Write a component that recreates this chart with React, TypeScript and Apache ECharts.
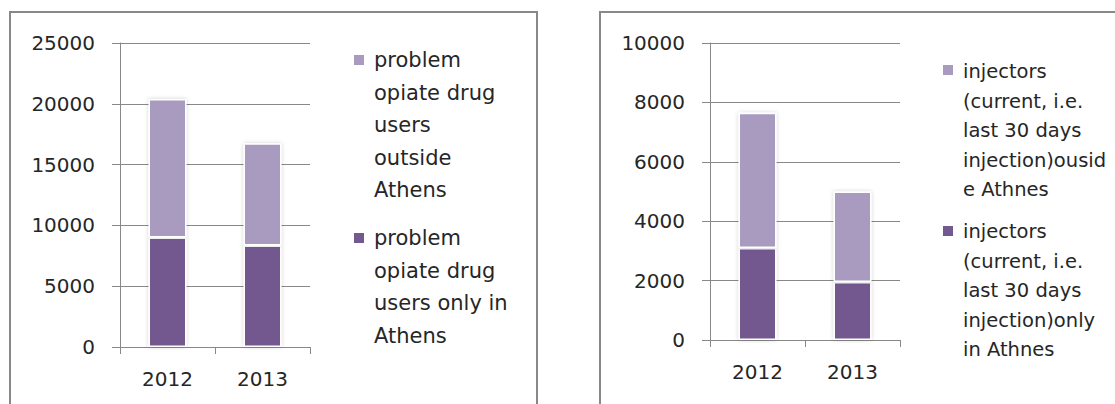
import React, { useEffect, useRef } from "react";
import * as echarts from "echarts";

const categories = ["2012", "2013"];
const opiateOnlyAthens = [9000, 8350];
const opiateOutsideAthens = [11400, 8400];
const injectorsOnlyAthens = [3100, 1950];
const injectorsOutsideAthens = [4550, 3050];

const opiateOutsideLabel = "problem\nopiate drug\nusers\noutside\nAthens";
const opiateAthensLabel = "problem\nopiate drug\nusers only in\nAthens";
const injOutsideLabel = "injectors\n(current, i.e.\nlast 30 days\ninjection)ousid\ne Athnes";
const injAthensLabel = "injectors\n(current, i.e.\nlast 30 days\ninjection)only\nin Athnes";

const LIGHT = "#A99BBF";
const DARK = "#72598F";
const GREY = "#888888";
const TEXT = "#262626";
const FONT = "DejaVu Sans";

export default function App() {
  const ref = useRef<HTMLDivElement>(null);
  useEffect(() => {
    if (!ref.current) return;
    const chart = echarts.init(ref.current, undefined, { renderer: "svg" });
    const xAxisBase = (gridIndex: number) => ({
      type: "category" as const,
      gridIndex,
      data: categories,
      axisLine: { show: true, lineStyle: { color: GREY, width: 1 } },
      axisTick: { show: true, length: 7, lineStyle: { color: GREY } },
      axisLabel: { margin: 22, fontSize: 20, color: TEXT, fontFamily: FONT },
      splitLine: { show: false },
    });
    const yAxisBase = (gridIndex: number, max: number, interval: number) => ({
      type: "value" as const,
      gridIndex,
      min: 0,
      max,
      interval,
      axisLine: { show: true, lineStyle: { color: GREY, width: 1 } },
      axisTick: { show: true, length: 8, lineStyle: { color: GREY } },
      axisLabel: {
        margin: 25,
        fontSize: 20,
        color: TEXT,
        fontFamily: FONT,
        formatter: (v: number) => String(v),
      },
      splitLine: { show: true, lineStyle: { color: GREY, width: 1 } },
    });
    const barStyle = (color: string) => ({
      color,
      borderColor: "#ffffff",
      borderWidth: 1.5,
      shadowBlur: 4,
      shadowColor: "rgba(0,0,0,0.18)",
    });
    const legendItem = (x: number, y: number, color: string, text: string, fontSize: number, lineHeight: number, markerY: number) => [
      {
        type: "rect",
        shape: { x, y: markerY - 5, width: 10, height: 10 },
        style: { fill: color },
      },
      {
        type: "text",
        x: x + 20,
        y,
        style: {
          text,
          fontFamily: FONT,
          fontSize,
          lineHeight,
          fill: TEXT,
          verticalAlign: "top",
          align: "left",
        },
      },
    ];
    chart.setOption({
      animation: false,
      backgroundColor: "#ffffff",
      grid: [
        { left: 120, top: 43, width: 190, height: 304 },
        { left: 710, top: 43, width: 190, height: 297 },
      ],
      xAxis: [xAxisBase(0), xAxisBase(1)],
      yAxis: [yAxisBase(0, 25000, 5000), yAxisBase(1, 10000, 2000)],
      series: [
        {
          name: opiateAthensLabel.replace(/\n/g, " "),
          type: "bar",
          stack: "opiate",
          xAxisIndex: 0,
          yAxisIndex: 0,
          barWidth: 38,
          data: opiateOnlyAthens,
          itemStyle: barStyle(DARK),
        },
        {
          name: opiateOutsideLabel.replace(/\n/g, " "),
          type: "bar",
          stack: "opiate",
          xAxisIndex: 0,
          yAxisIndex: 0,
          barWidth: 38,
          data: opiateOutsideAthens,
          itemStyle: barStyle(LIGHT),
        },
        {
          name: injAthensLabel.replace(/\n/g, " "),
          type: "bar",
          stack: "inj",
          xAxisIndex: 1,
          yAxisIndex: 1,
          barWidth: 38,
          data: injectorsOnlyAthens,
          itemStyle: barStyle(DARK),
        },
        {
          name: injOutsideLabel.replace(/\n/g, " "),
          type: "bar",
          stack: "inj",
          xAxisIndex: 1,
          yAxisIndex: 1,
          barWidth: 38,
          data: injectorsOutsideAthens,
          itemStyle: barStyle(LIGHT),
        },
      ],
      graphic: [
        {
          type: "rect",
          shape: { x: 10, y: 12, width: 527, height: 420 },
          style: { fill: "none", stroke: GREY, lineWidth: 2 },
          silent: true,
        },
        {
          type: "rect",
          shape: { x: 600, y: 12, width: 540, height: 420 },
          style: { fill: "none", stroke: GREY, lineWidth: 2 },
          silent: true,
        },
        ...legendItem(354, 44, LIGHT, opiateOutsideLabel, 21, 32.5, 60),
        ...legendItem(354, 222, DARK, opiateAthensLabel, 21, 32.5, 238),
        ...legendItem(943, 57, LIGHT, injOutsideLabel, 19.5, 29.5, 70),
        ...legendItem(943, 217, DARK, injAthensLabel, 19.5, 29.5, 231),
      ],
    });
    return () => chart.dispose();
  }, []);
  return (
    <div
      ref={ref}
      style={{ position: "absolute", left: 0, top: 0, width: 1115, height: 404 }}
    />
  );
}
